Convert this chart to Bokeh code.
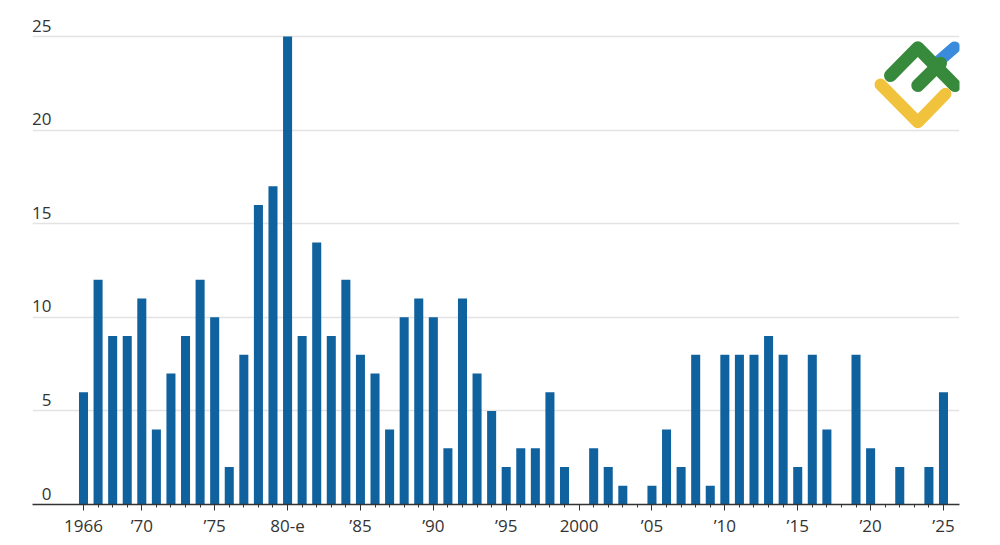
from bokeh.core.properties import value
from bokeh.embed import file_html
from bokeh.models import ColumnDataSource, FixedTicker, Range1d
from bokeh.plotting import figure
from bokeh.resources import INLINE

years = list(range(1966, 2026))
counts = [6, 12, 9, 9, 11, 4, 7, 9, 12, 10,
          2, 8, 16, 17, 25, 9, 14, 9, 12, 8,
          7, 4, 10, 11, 10, 3, 11, 7, 5, 2,
          3, 3, 6, 2, 0, 3, 2, 1, 0, 1,
          4, 2, 8, 1, 8, 8, 8, 9, 8, 2,
          8, 4, 0, 8, 3, 0, 2, 0, 2, 6]

major_years = [1966, 1970, 1975, 1980, 1985, 1990, 1995, 2000, 2005, 2010, 2015, 2020, 2025]
major_labels = ["1966", "’70", "’75", "80-е", "’85", "’90", "’95", "2000", "’05", "’10", "’15", "’20", "’25"]
y_ticks = [0, 5, 10, 15, 20, 25]

# where the plot area sits on the page, in pixels
left_px, right_px, top_px, zero_px = 32, 959, 36, 504
px_per_year = 14.576
px_per_unit = (zero_px - top_px) / 25

x_start = 1966 - (83 - left_px) / px_per_year
x_end = x_start + (right_px - left_px) / px_per_year
y_end = 25 + 18 / px_per_unit  # a bit of room above so the 25 label isn't clipped


def to_x(px):
    return x_start + (px - left_px) / px_per_year


def to_y(py):
    return (zero_px - py) / px_per_unit


p = figure(
    width=984,
    height=540,
    x_range=Range1d(x_start, x_end),
    y_range=Range1d(0, y_end),
    output_backend="svg",
    toolbar_location=None,
    min_border_left=32,
    min_border_right=25,
    min_border_top=18,
    min_border_bottom=36,
    outline_line_color=None,
)

# gridlines and axes
p.xgrid.visible = False
p.yaxis.visible = False
p.ygrid.ticker = FixedTicker(ticks=y_ticks[1:])
p.ygrid.grid_line_color = "#e3e3e3"
p.ygrid.grid_line_width = 1.5

p.xaxis.ticker = FixedTicker(ticks=major_years, minor_ticks=years)
p.xaxis.major_label_overrides = dict(zip(major_years, major_labels))
p.xaxis.axis_line_color = "#333333"
p.xaxis.axis_line_width = 1.5
p.xaxis.major_tick_line_color = "#333333"
p.xaxis.minor_tick_line_color = "#333333"
p.xaxis.major_tick_in = 0
p.xaxis.major_tick_out = 6
p.xaxis.minor_tick_in = 0
p.xaxis.minor_tick_out = 3
p.xaxis.major_label_standoff = 3
p.xaxis.major_label_text_font = "Open Sans"
p.xaxis.major_label_text_font_size = "17px"
p.xaxis.major_label_text_color = "#333333"

# bars
source = ColumnDataSource(data=dict(year=years, count=counts))
p.vbar(x="year", top="count", width=0.62, bottom=0, source=source,
       fill_color="#10629f", line_color=None)

# y labels sit inside the plot, just above their gridlines
p.text(
    x=[to_x(51)] * len(y_ticks),
    y=y_ticks,
    text=[str(t) for t in y_ticks],
    text_align="right",
    text_baseline="bottom",
    y_offset=-5,
    text_font=value("Open Sans"),
    text_font_size="17px",
    text_color="#333333",
)

# logo in the top right corner
p.line([to_x(v) for v in (939, 954)], [to_y(v) for v in (60, 47)],
       line_color="#3a8bdc", line_width=12, line_cap="round")
p.line([to_x(v) for v in (890, 917.3, 954.3)], [to_y(v) for v in (75, 47.3, 85)],
       line_color="#378a3c", line_width=13, line_cap="round", line_join="round")
p.line([to_x(v) for v in (917.3, 940)], [to_y(v) for v in (85, 62.7)],
       line_color="#378a3c", line_width=13, line_cap="round")
p.line([to_x(v) for v in (880, 917.3, 945)], [to_y(v) for v in (84, 121.7, 93.3)],
       line_color="#f1c33c", line_width=12, line_cap="round", line_join="round")

open("out.html", "w").write(file_html(p, INLINE))
